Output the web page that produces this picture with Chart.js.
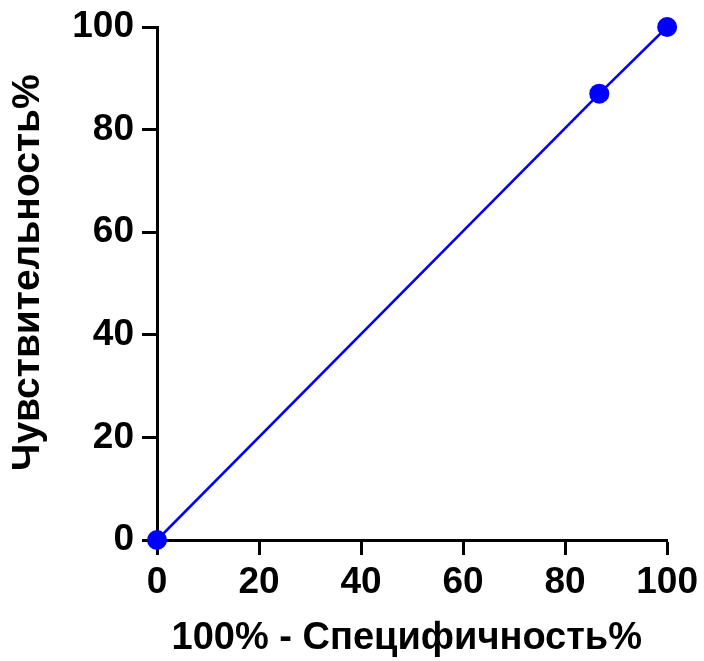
<!DOCTYPE html>
<html>
<head>
<meta charset="utf-8">
<script src="https://cdn.jsdelivr.net/npm/chart.js@4/dist/chart.umd.min.js"></script>
<style>
html,body{margin:0;padding:0;background:#fff;}
#wrap{width:704px;height:661px;}
</style>
</head>
<body>
<div id="wrap"><canvas id="c" width="704" height="661"></canvas></div>
<script>
const specificityX = [0, 86.7, 100];
const sensitivityY = [0, 87.0, 100];
const refX = [0, 100];
const refY = [0, 100];
const tickValues = [0, 20, 40, 60, 80, 100];
const xTitle = '100% - Специфичность%';
const yTitle = 'Чувствительность%';

const FONT = '"Liberation Sans", Arial, sans-serif';

new Chart(document.getElementById('c'), {
  type: 'scatter',
  data: {
    datasets: [
      {
        label: 'ROC',
        data: specificityX.map((x, i) => ({x: x, y: sensitivityY[i]})),
        showLine: true,
        borderColor: '#0000ff',
        backgroundColor: '#0000ff',
        borderWidth: 2.5,
        pointRadius: 10,
        pointHoverRadius: 10,
        pointBorderWidth: 0,
        clip: false,
        order: 1
      },
      {
        label: 'ref',
        data: refX.map((x, i) => ({x: x, y: refY[i]})),
        showLine: true,
        borderColor: 'rgba(255,0,0,0.8)',
        borderWidth: 1,
        borderDash: [2, 2],
        pointRadius: 0,
        clip: false,
        order: 2
      }
    ]
  },
  options: {
    responsive: false,
    animation: false,
    events: [],
    layout: { padding: { left: 0, right: 36, top: 27, bottom: 0 } },
    plugins: { legend: { display: false }, tooltip: { enabled: false } },
    scales: {
      x: {
        type: 'linear',
        min: 0, max: 100,
        afterBuildTicks: s => { s.ticks = tickValues.map(v => ({value: v})); },
        afterFit: s => { s.height = 121; },
        border: { display: true, color: '#000', width: 3 },
        grid: { display: true, drawOnChartArea: false, drawTicks: true, tickLength: 15, tickWidth: 3, tickColor: '#000', color: '#000' },
        ticks: { color: '#000', padding: 6, maxRotation: 0, font: { family: FONT, size: 37, weight: 'bold' } },
        title: { display: true, text: xTitle + ' ', color: '#000', padding: { top: 0, bottom: 0 }, font: { family: FONT, size: 38, weight: 'bold', lineHeight: 1.2 } }
      },
      y: {
        type: 'linear',
        min: 0, max: 100,
        afterBuildTicks: s => { s.ticks = tickValues.map(v => ({value: v})); },
        afterFit: s => { s.width = 157; },
        border: { display: true, color: '#000', width: 3 },
        grid: { display: true, drawOnChartArea: false, drawTicks: true, tickLength: 15, tickWidth: 3, tickColor: '#000', color: '#000' },
        ticks: { color: '#000', padding: 8, font: { family: FONT, size: 37, weight: 'bold', lineHeight: 0.9 } },
        title: { display: true, text: '  ' + yTitle, color: '#000', padding: { top: 5, bottom: 0 }, font: { family: FONT, size: 39, weight: 'bold', lineHeight: 1.2 } }
      }
    }
  }
});
</script>
</body>
</html>
